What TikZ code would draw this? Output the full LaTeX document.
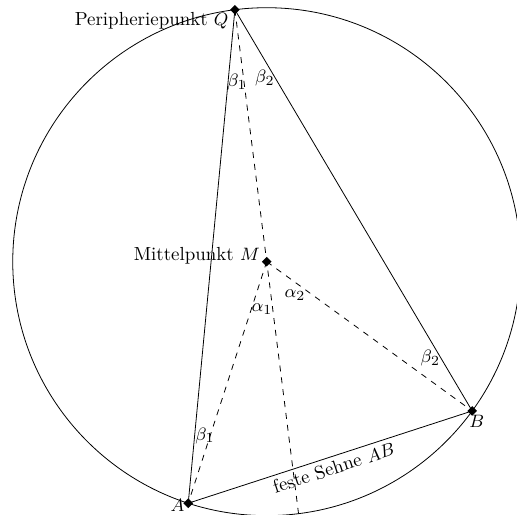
\documentclass[tikz,border=0pt]{standalone}
\usetikzlibrary{shapes.geometric, calc}
\usepackage{amsmath}

\tikzset{
  pkt/.style={diamond, fill=black, inner sep=0pt, minimum size=5pt},
  hilf/.style={dashed},
  winkel/.style={inner sep=0pt, font=\fontsize{9.5}{11}\selectfont}
}

\begin{document}
\begin{tikzpicture}[every node/.style={font=\fontsize{9.5}{11}\selectfont}]

    % ---- Parameters ----
    \def\R{4.48}       % circle radius
    \def\angQ{97.2}    % Q on the circle
    \def\angA{252}     % A on the circle
    \def\angB{324}     % B on the circle
    \pgfmathsetmacro{\angD}{\angQ + 180}

    \useasboundingbox (-4.705,-4.468) rectangle (4.415,4.616);

    \coordinate (M) at (0,0);
    \coordinate (Q) at (\angQ:\R);
    \coordinate (A) at (\angA:\R);
    \coordinate (B) at (\angB:\R);
    \coordinate (D) at (\angD:\R);

    % ---- Circle ----
    \draw (M) circle (\R);

    % ---- Triangle Q A B ----
    \draw (Q) -- (A);
    \draw (Q) -- (B);
    \draw (A) -- (B)
        node[midway, below, sloped, inner sep=2pt] {feste Sehne $AB$};

    % ---- Radii and diameter (dashed) ----
    \draw[hilf] (Q) -- (D);
    \draw[hilf] (M) -- (A);
    \draw[hilf] (M) -- (B);

    % ---- Points ----
    \node[pkt] (q) at (Q) {};
    \node[pkt] (m) at (M) {};
    \node[pkt] (a) at (A) {};
    \node[pkt] (b) at (B) {};

    \node[anchor=east, inner sep=1pt] (lq) at ([shift={(-0.07,-0.19)}]Q) {Peripheriepunkt $Q$};
    \node[anchor=east, inner sep=1pt] (lm) at ([shift={(-0.08,0.11)}]M) {Mittelpunkt $M$};
    \node[inner sep=0pt] (la) at ([shift={(-0.19,-0.04)}]A) {$A$};
    \node[inner sep=0pt] (lb) at ([shift={(0.08,-0.19)}]B) {$B$};

    % ---- Angles ----
    \node[winkel] (b1q) at ([shift={(-88.4:1.28)}]Q) {$\beta_1$};
    \node[winkel] (b2q) at ([shift={(-66.4:1.32)}]Q) {$\beta_2$};
    \node[winkel] (a1)  at ([shift={(-95.7:0.84)}]M) {$\alpha_1$};
    \node[winkel] (a2)  at ([shift={(-49.6:0.77)}]M) {$\alpha_2$};
    \node[winkel] (b2b) at ([shift={(128.4:1.19)}]B) {$\beta_2$};
    \node[winkel] (b1a) at ([shift={(76.1:1.23)}]A) {$\beta_1$};

\end{tikzpicture}
\end{document}
